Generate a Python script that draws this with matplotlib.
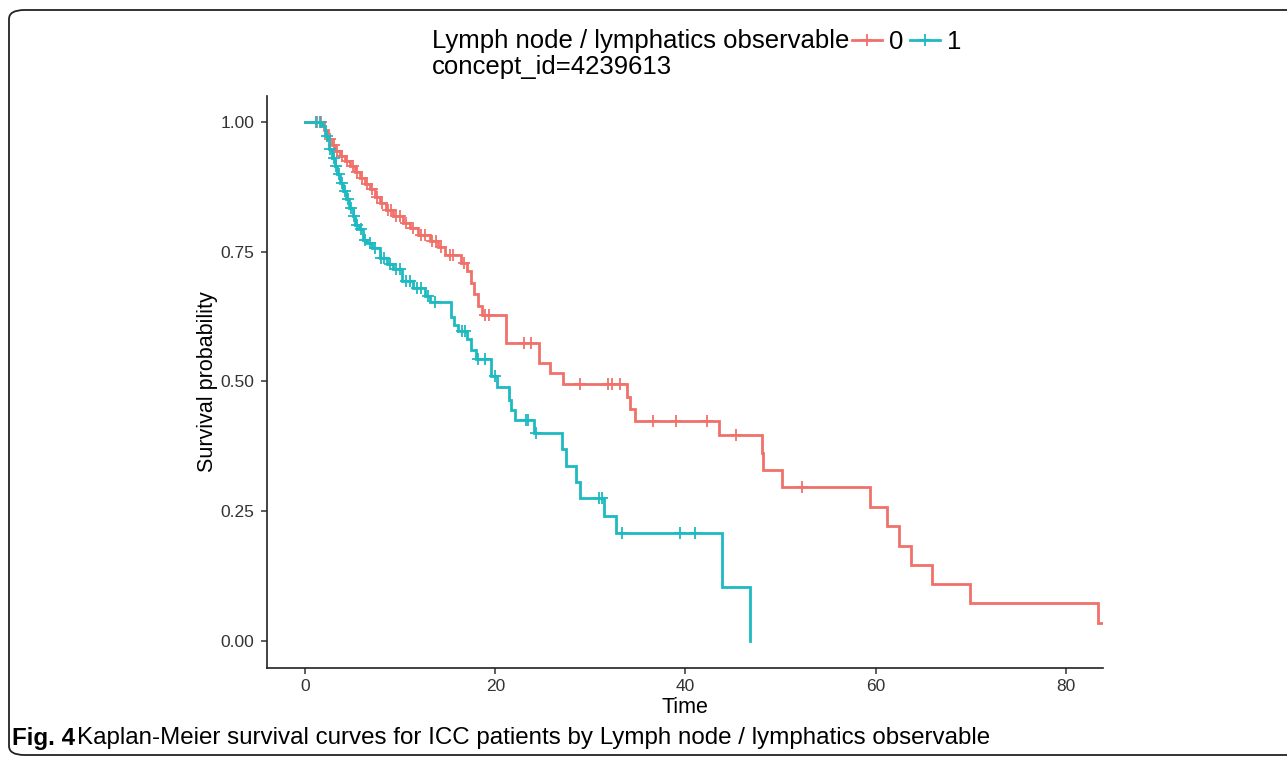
import numpy as np
import matplotlib
matplotlib.use("Agg")
import matplotlib.pyplot as plt
from matplotlib.lines import Line2D
from matplotlib.patches import FancyBboxPatch

# Kaplan-Meier step data
# group 0 (red)
times_0 = [0, 2.0, 2.4, 2.8, 3.2, 3.7, 4.2, 4.7, 5.3, 5.8, 6.3, 6.8, 7.4, 7.9,
           8.5, 9.3, 10.3, 11.0, 11.9, 13.1, 14.0, 14.7, 16.4, 17.0, 17.5,
           17.8, 18.2, 18.6, 21.1, 24.6, 25.8, 27.1, 33.8, 34.2, 34.7, 43.5,
           48.0, 48.2, 50.1, 59.4, 61.2, 62.5, 63.7, 65.9, 69.9, 83.35]
surv_0 = [1.0, 0.985, 0.968, 0.955, 0.944, 0.935, 0.925, 0.915, 0.903, 0.892,
          0.880, 0.870, 0.855, 0.844, 0.830, 0.818, 0.806, 0.796, 0.783, 0.770,
          0.760, 0.743, 0.728, 0.712, 0.690, 0.668, 0.645, 0.629, 0.574, 0.535,
          0.516, 0.496, 0.471, 0.447, 0.424, 0.396, 0.363, 0.330, 0.296, 0.259,
          0.222, 0.184, 0.147, 0.110, 0.073, 0.035]
end_0 = 83.9
censor_0 = [1.3, 1.7, 2.6, 3.0, 3.4, 3.9, 4.4, 5.0, 5.5, 6.0, 6.5, 7.0, 7.6,
            8.1, 8.7, 9.0, 9.6, 10.0, 10.6, 11.3, 12.2, 12.6, 13.4, 13.8, 14.3,
            15.2, 15.6, 16.7, 18.9, 19.3, 23.0, 23.8, 28.9, 31.9, 32.3, 33.1,
            36.6, 39.0, 42.3, 45.3, 52.2]

# group 1 (teal)
times_1 = [0, 1.8, 2.1, 2.5, 2.8, 3.1, 3.4, 3.7, 4.0, 4.3, 4.6, 5.0, 5.3, 5.7,
           6.1, 6.5, 7.0, 7.9, 8.6, 9.3, 10.2, 11.4, 12.6, 13.1, 15.3, 15.7,
           16.1, 17.0, 17.5, 18.0, 19.6, 20.2, 21.4, 21.7, 22.1, 24.1, 27.0,
           27.4, 28.5, 28.9, 31.4, 32.7, 43.8, 46.8]
surv_1 = [1.0, 0.992, 0.973, 0.947, 0.930, 0.915, 0.899, 0.883, 0.867, 0.851,
          0.835, 0.818, 0.802, 0.793, 0.773, 0.767, 0.757, 0.738, 0.727, 0.716,
          0.693, 0.680, 0.664, 0.654, 0.625, 0.609, 0.597, 0.581, 0.561, 0.543,
          0.510, 0.489, 0.465, 0.446, 0.426, 0.401, 0.370, 0.337, 0.307, 0.276,
          0.241, 0.208, 0.104, 0.0]
end_1 = 46.8
censor_1 = [1.2, 1.6, 2.3, 2.6, 3.0, 3.3, 3.6, 3.9, 4.2, 4.5, 4.8, 5.1, 5.5,
            5.9, 6.3, 6.8, 7.4, 8.0, 8.3, 8.9, 9.6, 10.0, 10.6, 11.0, 11.8,
            12.2, 12.9, 13.7, 16.5, 16.8, 18.2, 18.9, 20.0, 23.2, 23.4, 24.3,
            30.9, 31.2, 33.3, 39.4, 41.0]

x_ticks = [0, 20, 40, 60, 80]
y_ticks = [0.0, 0.25, 0.5, 0.75, 1.0]
y_ticklabels = ["0.00", "0.25", "0.50", "0.75", "1.00"]
groups = ["0", "1"]
colors = ["#F0716A", "#1DBAC1"]

plt.rcParams['font.family'] = ['Liberation Sans', 'DejaVu Sans']

fig = plt.figure(figsize=(12.87, 7.59), dpi=100)
ax = fig.add_axes([267/1287, 1 - 668/759, (1103 - 267)/1287, (668 - 96)/759])

series = [(times_0, surv_0, end_0, censor_0), (times_1, surv_1, end_1, censor_1)]
for (t, s, end, cens), col in zip(series, colors):
    t = np.array(list(t) + [end])
    s = np.array(list(s) + [s[-1]])
    ax.step(t, s, where='post', color=col, lw=2.0, solid_joinstyle='miter')
    idx = np.searchsorted(t, cens, side='right') - 1
    ax.plot(cens, s[idx], ls='none', marker='+', ms=9, mew=1.3, color=col)

ax.set_xlim(-4.0, 83.9)
ax.set_ylim(-0.052, 1.05)
ax.set_xticks(x_ticks)
ax.set_yticks(y_ticks)
ax.set_yticklabels(y_ticklabels)
for sp in ['top', 'right']:
    ax.spines[sp].set_visible(False)
for sp in ['left', 'bottom']:
    ax.spines[sp].set_linewidth(1.2)
    ax.spines[sp].set_color('#222222')
ax.tick_params(length=4, width=1.1, color='#333333', labelsize=12.5,
               labelcolor='#333333')
ax.tick_params(axis='y', pad=5)
ax.tick_params(axis='x', pad=4)
ax.set_xlabel("Time", fontsize=15.5, labelpad=2)
ax.set_ylabel("Survival probability", fontsize=15.5, labelpad=2)

# legend title and keys at the top
fig.text(432/1287, 1 - 41/759, "Lymph node / lymphatics observable",
         fontsize=18.5, va='center', ha='left')
fig.text(432/1287, 1 - 67/759, "concept_id=4239613",
         fontsize=18.5, va='center', ha='left')
handles = [Line2D([], [], color=c, lw=2.0, marker='+', ms=9, mew=1.3)
           for c in colors]
fig.legend(handles, groups, loc='center left',
           bbox_to_anchor=(852/1287, 1 - 42/759), ncol=2, frameon=False,
           fontsize=18.5, handlelength=1.15, handletextpad=0.3,
           columnspacing=0.25, borderpad=0, borderaxespad=0)

# caption, scaled so that it ends where the printed caption ends
cap_font = ['Liberation Sans Narrow', 'Liberation Sans']
fig_lbl = fig.text(12/1287, 1 - 738/759, "Fig. 4", fontsize=15,
                   fontweight='bold', family=cap_font, va='center')
cap = fig.text(77/1287, 1 - 738/759,
               "Kaplan-Meier survival curves for ICC patients by Lymph node / lymphatics observable",
               fontsize=15, family=cap_font, va='center')
renderer = fig.canvas.get_renderer()
w = cap.get_window_extent(renderer).width
scale = (990 - 77) / w
cap.set_fontsize(15 * scale)
fig_lbl.set_fontsize(15 * scale)

# article frame
frame = FancyBboxPatch((9/1287, 1 - 755/759), 1.2, (755 - 10)/759,
                       boxstyle="round,pad=0,rounding_size=0.012",
                       transform=fig.transFigure, fill=False,
                       ec='#222222', lw=1.3)
fig.patches.append(frame)

fig.savefig("out.png", dpi=100)
